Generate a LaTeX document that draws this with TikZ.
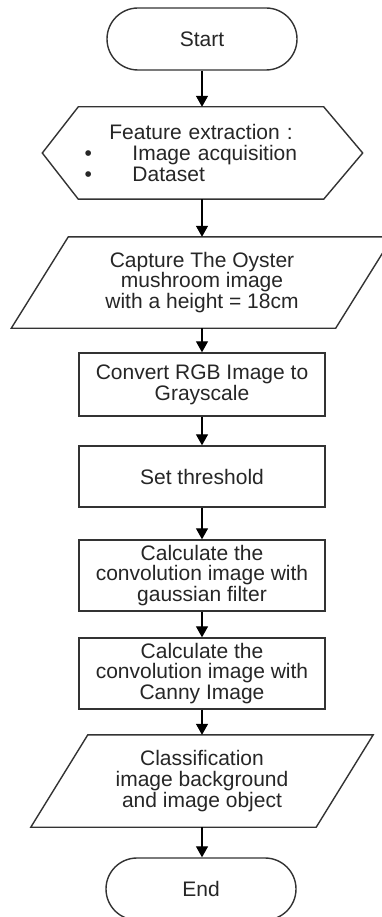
\documentclass[tikz,border=0pt]{standalone}
\usepackage{fontspec}
\setmainfont{Liberation Sans}
\usetikzlibrary{arrows.meta}
\begin{document}
\begin{tikzpicture}[x=1pt,y=-1pt,
  txt/.style={font=\fontsize{21}{20.7}\selectfont, text=black!85, align=center, inner sep=0pt},
  term/.style={txt, draw=black!80, line width=1.4pt, rounded corners=31pt, minimum width=190pt, minimum height=62pt},
  proc/.style={txt, draw=black!80, line width=1.4pt, minimum width=246pt},
  outline/.style={draw=black!80, line width=1.4pt, line join=miter},
  flow/.style={line width=1.3pt, draw=black, -{Triangle[width=12pt,length=11pt]}}
]
\fill[white] (0,0) rectangle (381,917);
\useasboundingbox (0,0) rectangle (381,917);

% terminals
\node[term] (start) at (202,39) {Start};
\node[term] (end) at (201,889) {End};

% hexagon (preparation)
\node[txt, minimum width=245pt, minimum height=92pt, text width=233pt, align=left] (feat) at (201,153)
  {\makebox[233pt][c]{Feature extraction :}\\
   \makebox[48pt][l]{\textbullet}Image acquisition\\
   \makebox[48pt][l]{\textbullet}Dataset};
\draw[outline] (feat.north west) -- (feat.north east) -- ([xshift=39pt]feat.east)
  -- (feat.south east) -- (feat.south west) -- ([xshift=-36pt]feat.west) -- cycle;

% parallelogram 1
\node[txt, minimum width=324pt, minimum height=91pt] (cap) at (202,282.5)
  {Capture The Oyster\\mushroom image\\with a height = 18cm};
\draw[outline] ([xshift=28.5pt]cap.north west) -- ([xshift=28.5pt]cap.north east)
  -- ([xshift=-28.5pt]cap.south east) -- ([xshift=-28.5pt]cap.south west) -- cycle;

% process boxes
\node[proc, minimum height=63pt] (conv) at (202,384.5) {Convert RGB Image to\\Grayscale};
\node[proc, minimum height=61pt] (thr) at (202,476.5) {Set threshold};
\node[proc, minimum height=71pt] (gauss) at (202,575.5) {Calculate the\\convolution image with\\gaussian filter};
\node[proc, minimum height=71pt] (canny) at (202,673.5) {Calculate the\\convolution image with\\Canny Image};

% parallelogram 2
\node[txt, minimum width=285pt, minimum height=92pt] (class) at (202,781)
  {Classification\\image background\\and image object};
\draw[outline] ([xshift=28.5pt]class.north west) -- ([xshift=28.5pt]class.north east)
  -- ([xshift=-28.5pt]class.south east) -- ([xshift=-28.5pt]class.south west) -- cycle;

% connectors
\draw[flow] (start.south) -- (start.south |- feat.north);
\draw[flow] (start.south |- feat.south) -- (start.south |- cap.north);
\draw[flow] (start.south |- cap.south) -- (conv.north);
\draw[flow] (conv.south) -- (thr.north);
\draw[flow] (thr.south) -- (gauss.north);
\draw[flow] (gauss.south) -- (canny.north);
\draw[flow] (canny.south) -- (class.north);
\draw[flow] (class.south) -- (class.south |- end.north);
\end{tikzpicture}
\end{document}
